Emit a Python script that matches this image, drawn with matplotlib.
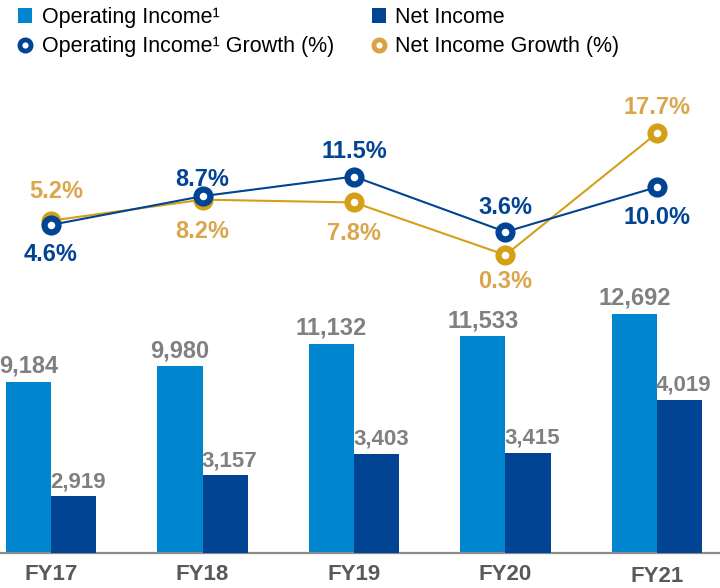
import matplotlib.pyplot as plt
from matplotlib.patches import Patch
from matplotlib.lines import Line2D
from matplotlib.transforms import ScaledTranslation
import numpy as np

plt.rcParams['font.family'] = ['Liberation Sans', 'DejaVu Sans']

years = ['FY17', 'FY18', 'FY19', 'FY20', 'FY21']
op_income = [9184, 9980, 11132, 11533, 12692]
net_income = [2919, 3157, 3403, 3415, 4019]
op_growth = [4.6, 8.7, 11.5, 3.6, 10.0]
net_growth = [5.2, 8.2, 7.8, 0.3, 17.7]

c_light = '#0085CF'
c_dark = '#004493'
c_gold = '#D4A017'
c_gold_txt = '#DAA64C'
c_gray = '#808080'

x = np.arange(len(years))
w = 0.30

fig = plt.figure(figsize=(7.2, 5.88), dpi=100)
ax = fig.add_axes([0, 0.06, 1, 0.94])
ax2 = ax.twinx()
ax3 = ax.twinx()

ax.bar(x - w/2, op_income, w, color=c_light)
ax2.bar(x + w/2, net_income, w, color=c_dark)

ax.set_xlim(-0.337, 4.416)
ax.set_ylim(373, 28860)
ax2.set_ylim(2273, 8590)
ax3.set_ylim(-42.2, 36.7)

for i, v in enumerate(op_income):
    ax.annotate(f'{v:,}', (x[i] - w/2, v), xytext=(0, 6.5), textcoords='offset points',
                ha='center', va='baseline', fontsize=17, fontweight='bold', color=c_gray)
for i, v in enumerate(net_income):
    ax2.annotate(f'{v:,}', (x[i] + w/2, v), xytext=(3, 6.5), textcoords='offset points',
                 ha='center', va='baseline', fontsize=16, fontweight='bold', color=c_gray)

# growth lines
ax3.plot(x, net_growth, color=c_gold, lw=1.5, marker='o', ms=10, mew=4.5,
         mfc='white', mec=c_gold, zorder=3)
ax3.plot(x, op_growth, color=c_dark, lw=1.5, marker='o', ms=10, mew=4.5,
         mfc='white', mec=c_dark, zorder=4)

op_off = [(0, -13, 'top'), (0, 7, 'baseline'), (0, 13, 'baseline'), (0, 13, 'baseline'), (0, -14, 'top')]
net_off = [(4, 16, 'baseline'), (0, -15, 'top'), (0, -14, 'top'), (0, -11, 'top'), (0, 14, 'baseline')]
for i in range(len(years)):
    dx, dy, va = op_off[i]
    ax3.annotate(f'{op_growth[i]:.1f}%', (x[i], op_growth[i]), xytext=(dx, dy),
                 textcoords='offset points', ha='center', va=va,
                 fontsize=17, fontweight='bold', color=c_dark)
    dx, dy, va = net_off[i]
    ax3.annotate(f'{net_growth[i]:.1f}%', (x[i], net_growth[i]), xytext=(dx, dy),
                 textcoords='offset points', ha='center', va=va,
                 fontsize=17, fontweight='bold', color=c_gold_txt)

for a in (ax, ax2, ax3):
    for s in a.spines.values():
        s.set_visible(False)
    a.set_yticks([])
ax.spines['bottom'].set_visible(True)
ax.spines['bottom'].set_color('#8C8C8C')
ax.spines['bottom'].set_linewidth(1.6)

ax.set_xticks(x)
ax.set_xticklabels(years, fontsize=16, fontweight='bold', color='#595959')
ax.tick_params(axis='x', length=0, pad=8)
lbls = ax.get_xticklabels()
lbls[-1].set_transform(lbls[-1].get_transform() + ScaledTranslation(0, -1.5/72, fig.dpi_scale_trans))

handles = [
    Patch(facecolor=c_light),
    Line2D([], [], ls='none', marker='o', ms=8, mew=3.5, mfc='white', mec=c_dark),
    Patch(facecolor=c_dark),
    Line2D([], [], ls='none', marker='o', ms=8, mew=3.5, mfc='white', mec='#D9A441'),
]
labels = ['Operating Income\u00b9', 'Operating Income\u00b9 Growth (%)',
          'Net Income', 'Net Income Growth (%)']
fig.legend(handles, labels, ncol=2, loc='upper left', bbox_to_anchor=(0.025, 0.988),
           frameon=False, fontsize=15.5, handlelength=0.65, handleheight=0.65,
           handletextpad=0.45, columnspacing=1.75, labelspacing=0.38,
           borderpad=0, borderaxespad=0)

fig.savefig('out.png', dpi=100)
